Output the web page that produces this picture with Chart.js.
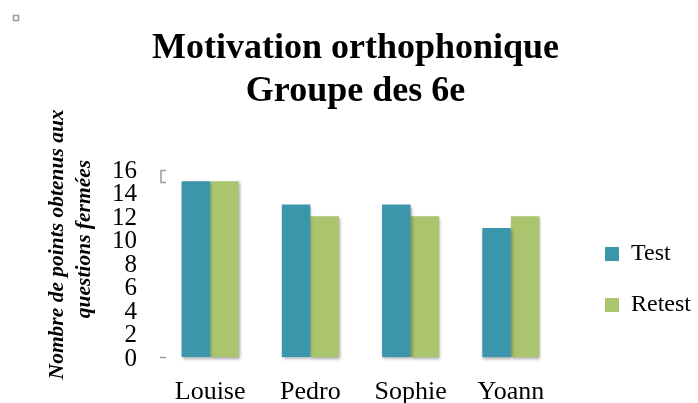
<!DOCTYPE html>
<html lang="fr">
<head>
  <meta charset="UTF-8">
  <title>Motivation orthophonique</title>
  <script src="https://cdn.jsdelivr.net/npm/chart.js"></script>
  <style>
    html, body { margin: 0; padding: 0; background: #fff; overflow: hidden; }
    #wrap { width: 698px; height: 403px; }
  </style>
</head>
<body>
  <div id="wrap"><canvas id="chart" width="698" height="403"></canvas></div>

  <script>
    // Data
    const eleves = ['Louise', 'Pedro', 'Sophie', 'Yoann'];
    const scoresTest = [15, 13, 13, 11];
    const scoresRetest = [15, 12, 12, 12];
    const seriesNames = ['Test', 'Retest'];
    const yMin = 0, yMax = 16, yStep = 2;

    const SERIF = "'Liberation Serif', 'Times New Roman', serif";
    const NB = '\u00A0';

    // soft drop shadow under the bars
    const barShadow = {
      id: 'barShadow',
      beforeDatasetsDraw(chart) {
        const c = chart.ctx;
        c.save();
        c.shadowColor = 'rgba(0,0,0,0.35)';
        c.shadowBlur = 3;
        c.shadowOffsetX = 1;
        c.shadowOffsetY = 2;
      },
      afterDatasetsDraw(chart) {
        chart.ctx.restore();
      }
    };

    // push the legend a bit away from the plot
    const legendShift = {
      id: 'legendShift',
      afterLayout(chart) {
        const lg = chart.legend;
        lg.left += 17;
        lg.right += 17;
      }
    };

    // small grey marks left over in the original picture
    const leftovers = {
      id: 'leftovers',
      afterDraw(chart) {
        const c = chart.ctx;
        const y = chart.scales.y;
        const x0 = chart.chartArea.left;
        const top = y.getPixelForValue(yMax);
        c.save();
        c.strokeStyle = '#9a9a9a';
        c.lineWidth = 1.5;
        c.strokeRect(13.5, 15.5, 5, 5);
        c.beginPath();
        c.moveTo(x0 + 6, top + 1);
        c.lineTo(x0 + 1, top + 1);
        c.lineTo(x0 + 1, top + 13);
        c.lineTo(x0 + 6, top + 13);
        c.stroke();
        c.beginPath();
        c.moveTo(x0, y.getPixelForValue(yMin) + 0.5);
        c.lineTo(x0 + 6, y.getPixelForValue(yMin) + 0.5);
        c.stroke();
        c.restore();
      }
    };

    new Chart(document.getElementById('chart'), {
      type: 'bar',
      data: {
        labels: eleves,
        datasets: [
          { label: seriesNames[0], data: scoresTest, backgroundColor: '#3b95ab', clip: false },
          { label: seriesNames[1], data: scoresRetest, backgroundColor: '#abc46e', clip: false }
        ]
      },
      options: {
        responsive: false,
        animation: false,
        events: [],
        categoryPercentage: 0.57,
        barPercentage: 1,
        layout: { padding: { left: 27, right: 14, top: 0, bottom: 0 } },
        plugins: {
          title: {
            display: true,
            text: ['Motivation orthophonique', 'Groupe des 6e'],
            color: '#000',
            font: { family: SERIF, size: 36, weight: 'bold', lineHeight: 1.2 },
            padding: { top: 27, bottom: 56 }
          },
          legend: {
            position: 'right',
            align: 'start',
            title: { display: true, text: '', font: { size: 10, lineHeight: 1.2 }, padding: { top: 0, bottom: 203 } },
            labels: {
              boxWidth: 14,
              boxHeight: 14,
              padding: 27,
              color: '#000',
              font: { family: SERIF, size: 24 }
            }
          },
          tooltip: { enabled: false }
        },
        scales: {
          x: {
            grid: { display: false, drawTicks: false },
            border: { display: false },
            ticks: { color: '#000', padding: 20, font: { family: SERIF, size: 26 } },
            afterFit(scale) { scale.height = 46; }
          },
          y: {
            min: yMin,
            max: yMax,
            grid: { display: false, drawTicks: false },
            border: { display: false },
            ticks: {
              stepSize: yStep,
              autoSkip: false,
              color: '#000',
              padding: 23,
              labelOffset: 2,
              font: { family: SERIF, size: 25, lineHeight: 1 }
            },
            title: {
              display: true,
              text: [NB.repeat(7) + 'Nombre de points obtenus aux', NB.repeat(9) + 'questions fermées'],
              color: '#000',
              padding: { top: 16, bottom: 0 },
              font: { family: SERIF, size: 21.5, weight: 'bold', style: 'italic', lineHeight: 1.3 }
            },
            afterFit(scale) { scale.width = 133; }
          }
        }
      },
      plugins: [barShadow, legendShift, leftovers]
    });
  </script>
</body>
</html>
